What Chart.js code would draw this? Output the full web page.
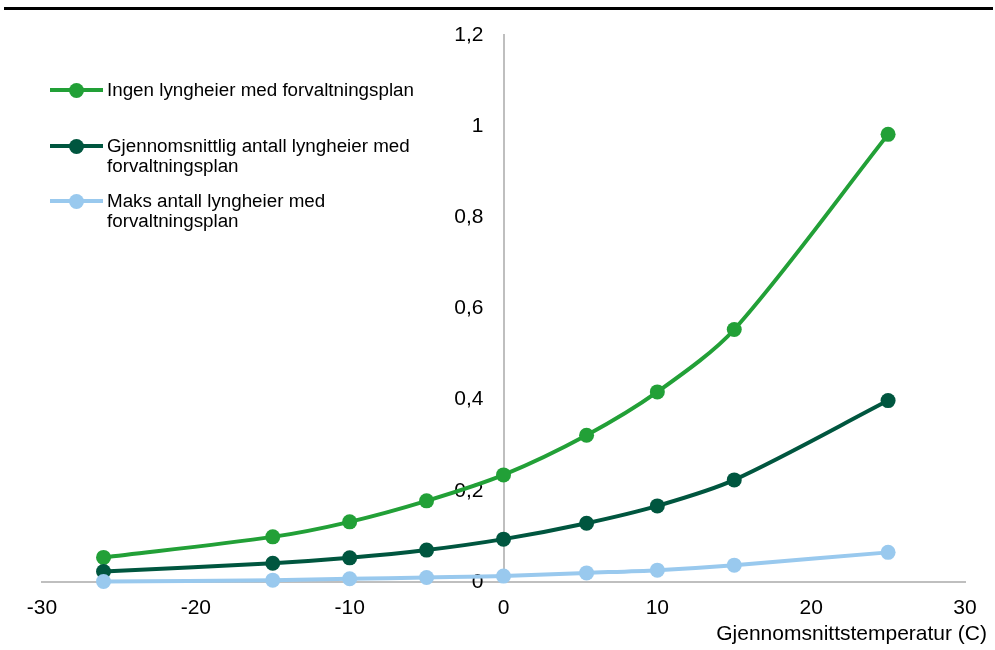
<!DOCTYPE html>
<html>
<head>
<meta charset="utf-8">
<script src="https://cdn.jsdelivr.net/npm/chart.js@4/dist/chart.umd.min.js"></script>
<style>
html,body{margin:0;padding:0;background:#fff;}
#wrap{position:relative;width:995px;height:650px;overflow:hidden;}
#chart{position:absolute;left:0;top:0;}
#rule{position:absolute;left:4px;right:2px;top:7px;height:3px;background:#000;}
#legend{position:absolute;left:50px;top:0;font-family:"Liberation Sans",Arial,sans-serif;font-size:18.8px;color:#000;}
.item{position:absolute;left:0;white-space:nowrap;line-height:20.5px;}
.mk{position:absolute;left:0;top:8.25px;width:53px;height:4px;}
.dot{position:absolute;left:19px;top:-5.5px;width:15px;height:15px;border-radius:50%;}
.tx{position:absolute;left:57px;top:0;}
</style>
</head>
<body>
<div id="wrap">
  <canvas id="chart" width="995" height="650"></canvas>
  <div id="rule"></div>
  <div id="legend"></div>
</div>
<script>
// ---- data ----
const temps = [-26, -15, -10, -5, 0, 5.4, 10, 15, 25];
const ingen = [0.054, 0.099, 0.132, 0.178, 0.235, 0.322, 0.417, 0.554, 0.982];
const gjennomsnitt = [0.023, 0.041, 0.053, 0.070, 0.094, 0.129, 0.167, 0.224, 0.398];
const maks = [0.001, 0.004, 0.007, 0.010, 0.013, 0.020, 0.026, 0.037, 0.065];

const seriesNames = [
  ['Ingen lyngheier med forvaltningsplan'],
  ['Gjennomsnittlig antall lyngheier med', 'forvaltningsplan'],
  ['Maks antall lyngheier med', 'forvaltningsplan']
];
const seriesColors = ['#22A037', '#00563F', '#99C9EE'];
const legendTops = [79.75, 135.75, 190.75];

const xTickValues = [-30, -20, -10, 0, 10, 20, 30];
const xTickLabels = ['-30', '-20', '-10', '0', '10', '20', '30'];
const yTickValues = [0, 0.2, 0.4, 0.6, 0.8, 1, 1.2];
const yTickLabels = ['0', '0,2', '0,4', '0,6', '0,8', '1', '1,2'];
const xAxisTitle = 'Gjennomsnittstemperatur (C)';

const seriesValues = [ingen, gjennomsnitt, maks];

// ---- legend (HTML) ----
const legendEl = document.getElementById('legend');
seriesNames.forEach((lines, i) => {
  const item = document.createElement('div');
  item.className = 'item';
  item.style.top = legendTops[i] + 'px';
  const mk = document.createElement('div');
  mk.className = 'mk';
  mk.style.background = seriesColors[i];
  const dot = document.createElement('div');
  dot.className = 'dot';
  dot.style.background = seriesColors[i];
  mk.appendChild(dot);
  const tx = document.createElement('div');
  tx.className = 'tx';
  lines.forEach((ln, j) => {
    if (j) tx.appendChild(document.createElement('br'));
    tx.appendChild(document.createTextNode(ln));
  });
  item.appendChild(mk);
  item.appendChild(tx);
  legendEl.appendChild(item);
});

// ---- chart ----
const font = 'Liberation Sans, Arial, sans-serif';
const datasets = seriesValues.map((vals, i) => ({
  label: seriesNames[i].join(' '),
  data: temps.map((t, k) => ({x: t, y: vals[k]})),
  yAxisID: 'y',
  borderColor: seriesColors[i],
  backgroundColor: seriesColors[i],
  pointBackgroundColor: seriesColors[i],
  pointBorderWidth: 0,
  pointRadius: 7.5,
  borderWidth: 4,
  tension: 0.3,
  clip: false,
  order: 2 - i
}));

new Chart(document.getElementById('chart'), {
  type: 'line',
  data: { datasets },
  options: {
    responsive: false,
    animation: false,
    devicePixelRatio: 1,
    layout: { padding: { left: 42, right: 8, top: 35, bottom: 3 } },
    plugins: {
      legend: { display: false },
      tooltip: { enabled: false },
      title: {
        display: true,
        text: xAxisTitle,
        position: 'bottom',
        align: 'end',
        color: '#000',
        font: { family: font, size: 21, weight: 'normal' },
        padding: { top: 1.8, bottom: 0 }
      }
    },
    scales: {
      x: {
        type: 'linear',
        position: 'bottom',
        min: -30, max: 30,
        afterBuildTicks: s => { s.ticks = xTickValues.map(v => ({value: v})); },
        afterFit: s => { s.paddingRight = 30; s.height = 38; },
        grid: { display: false, drawTicks: false },
        border: { display: true, color: '#BFBFBF', width: 2 },
        ticks: {
          padding: 13.4,
          color: '#000',
          font: { family: font, size: 21 },
          maxRotation: 0,
          callback: (v, i) => xTickLabels[i]
        }
      },
      y: {
        type: 'linear',
        position: { x: 0 },
        min: 0, max: 1.2,
        afterBuildTicks: s => { s.ticks = yTickValues.map(v => ({value: v})); },
        grid: { display: false, drawTicks: false },
        border: { display: true, color: '#BFBFBF', width: 2 },
        ticks: { display: false }
      },
      yLabels: {
        type: 'linear',
        axis: 'y',
        position: { x: -1.3 },
        min: 0, max: 1.2,
        afterBuildTicks: s => { s.ticks = yTickValues.map(v => ({value: v})); },
        grid: { display: false, drawTicks: false },
        border: { display: false },
        ticks: {
          color: '#000',
          font: { family: font, size: 21 },
          callback: (v, i) => yTickLabels[i]
        }
      }
    }
  }
});
</script>
</body>
</html>
